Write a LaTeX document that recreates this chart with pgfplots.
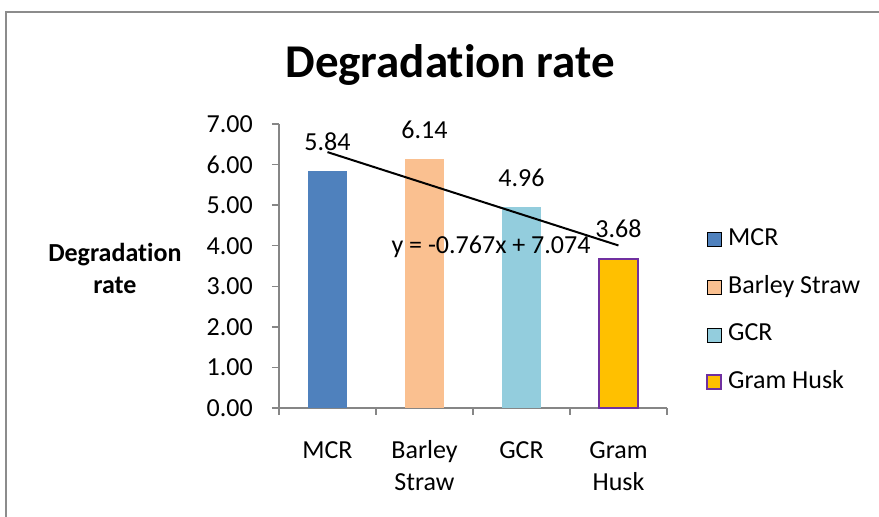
\documentclass[border=0pt]{standalone}
\usepackage{pgfplots}
\pgfplotsset{compat=1.18}
\usepackage{fontspec}
\setmainfont{Carlito}[Ligatures=NoCommon]
\definecolor{cMCR}{HTML}{4F81BD}
\definecolor{cBS}{HTML}{FAC090}
\definecolor{cGCR}{HTML}{93CDDD}
\definecolor{cGH}{HTML}{FFC000}
\definecolor{cGHb}{HTML}{7030A0}
\definecolor{axgray}{HTML}{868686}
\definecolor{frame}{HTML}{8C8C8C}
\newcommand{\basefont}{\fontsize{26}{32}\selectfont}
\begin{document}
\begin{tikzpicture}[x=1pt,y=1pt]
\path[use as bounding box] (0,0) rectangle (879,517);
\draw[color=frame, line width=2pt] (6,0) -- (6,505) -- (879,505);
\node[font=\fontsize{47}{56}\selectfont\bfseries, anchor=base] at (450,439) {Degradation rate};
\begin{axis}[
  at={(279pt,109pt)}, anchor=south west,
  scale only axis, width=388pt, height=284pt,
  xmin=0.5, xmax=4.5, ymin=0, ymax=7,
  axis x line*=bottom, axis y line*=left,
  axis line style={draw=axgray, line width=1.5pt},
  tick style={draw=axgray, line width=1.5pt},
  tick align=outside, major tick length=7pt,
  ytick={0,1,2,3,4,5,6,7},
  yticklabel shift=19pt,
  yticklabel style={/tikz/inner sep=0pt, /pgf/number format/fixed, /pgf/number format/fixed zerofill, /pgf/number format/precision=2},
  /pgf/number format/assume math mode=true,
  ticklabel style={font=\basefont},
  xtick={0.5,1.5,2.5,3.5,4.5},
  xticklabels={},
  extra x ticks={1,2,3,4},
  extra x tick labels={{\strut MCR},{\strut Barley\\Straw},{\strut GCR},{\strut Gram\\Husk}},
  extra x tick style={major tick length=0pt},
  xticklabel style={align=center, inner sep=0pt, anchor=north, yshift=-27.6pt},
  ylabel={Degradation\\rate},
  ylabel style={rotate=-90, align=center, font=\basefont\bfseries, at={(axis description cs:-0.423,0.49)}, anchor=center},
  legend style={draw=none, fill=none, inner sep=0pt, font=\basefont, at={(axis description cs:1.1005,0.644)}, anchor=north west, row sep=19.7pt, column sep=4pt, nodes={inner sep=2pt, text height=18pt, text depth=6pt}},
  legend cell align=left,
  legend image code/.code={\draw[#1] (0pt,-7pt) rectangle (14pt,7pt);},
  clip=false,
]
\addplot[ybar, bar width=39pt, bar shift=0pt, fill=cMCR, draw=none,
  nodes near coords, nodes near coords style={font=\basefont, anchor=south, inner sep=0pt, yshift=20pt, /pgf/number format/fixed, /pgf/number format/fixed zerofill, /pgf/number format/precision=2}]
  coordinates {(1,5.84)};
\addlegendentry{MCR}
\addplot[ybar, bar width=39pt, bar shift=0pt, fill=cBS, draw=none,
  nodes near coords, nodes near coords style={font=\basefont, anchor=south, inner sep=0pt, yshift=20pt, /pgf/number format/fixed, /pgf/number format/fixed zerofill, /pgf/number format/precision=2}]
  coordinates {(2,6.14)};
\addlegendentry{Barley Straw}
\addplot[ybar, bar width=39pt, bar shift=0pt, fill=cGCR, draw=none,
  nodes near coords, nodes near coords style={font=\basefont, anchor=south, inner sep=0pt, yshift=20pt, /pgf/number format/fixed, /pgf/number format/fixed zerofill, /pgf/number format/precision=2}]
  coordinates {(3,4.96)};
\addlegendentry{GCR}
\addplot[ybar, bar width=39pt, bar shift=0pt, fill=cGH, draw=cGHb, line width=2pt,
  nodes near coords, nodes near coords style={font=\basefont, anchor=south, inner sep=0pt, yshift=20pt, /pgf/number format/fixed, /pgf/number format/fixed zerofill, /pgf/number format/precision=2}]
  coordinates {(4,3.68)};
\addlegendentry{Gram Husk}
\addplot[sharp plot, black, line width=2pt, mark=none, forget plot] coordinates {(1,6.307) (4,4.006)};
\node[font=\basefont, anchor=base] at (axis cs:2.686,3.82) {y = -0.767x + 7.074};
\end{axis}
\end{tikzpicture}
\end{document}
